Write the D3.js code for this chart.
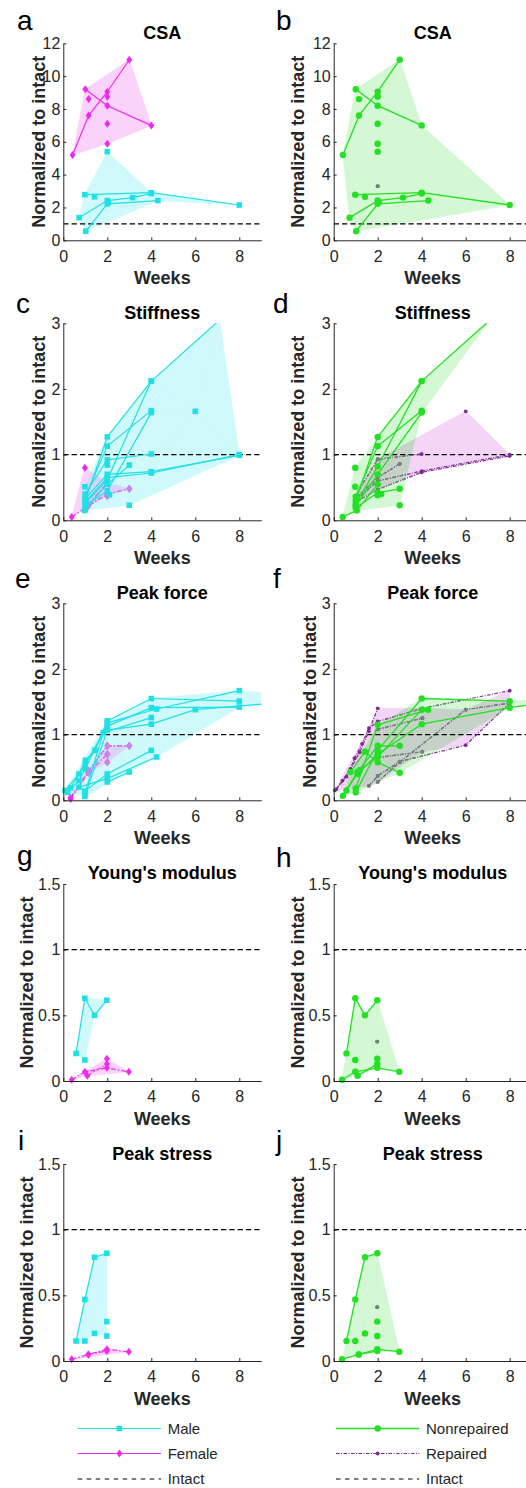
<!DOCTYPE html>
<html>
<head>
<meta charset="utf-8">
<script src="https://cdn.jsdelivr.net/npm/d3@7"></script>
<style>
  body { margin: 0; background: #fff; }
  text { font-family: "Liberation Sans", Arial, Helvetica, sans-serif; }
</style>
</head>
<body>
<svg id="chart" width="526" height="1488"></svg>
<script>
// ---- tick values ----
const weekTicks = [0, 2, 4, 6, 8];
const csaTicks = [0, 2, 4, 6, 8, 10, 12];
const ratioTicks = [0, 1, 2, 3];
const smallTicks = [0, 0.5, 1, 1.5];
const intactLevel = 1;

// ---- CSA (a, b) ----  [week, normalized value]
const csaMaleLines = [
  [[0.98, 2.78], [4.0, 2.9], [8.0, 2.15]],
  [[0.72, 1.38], [2.0, 2.42], [3.15, 2.6], [4.0, 2.85]],
  [[1.02, 0.55], [2.0, 2.22], [4.3, 2.42]]
];
const csaMalePoints = [[1.42, 2.65], [2.0, 5.4], [2.05, 2.32]];
const csaFemaleLines = [
  [[0.42, 5.2], [1.15, 7.6], [2.0, 9.05], [3.0, 11.0]],
  [[1.0, 9.2], [2.0, 8.2], [4.0, 7.0]]
];
const csaFemalePoints = [[1.15, 8.6], [2.0, 8.75], [2.0, 7.1], [2.0, 5.88]];
const csaRepPoints = [[2.0, 3.3]];

// ---- Stiffness (c, d) ----
const stiffMaleLines = [
  [[1.0, 0.30], [2.0, 1.27], [4.0, 2.12], [7.1, 3.05]],
  [[1.0, 0.25], [2.0, 0.62], [4.0, 2.12]],
  [[1.0, 0.36], [2.0, 1.13], [4.0, 1.67]],
  [[1.0, 0.22], [2.0, 0.45], [4.0, 1.64]],
  [[1.0, 0.40], [2.0, 0.92], [4.0, 1.01]],
  [[1.0, 0.33], [2.0, 0.70], [4.0, 0.74], [8.0, 0.99]],
  [[1.0, 0.28], [2.0, 0.65], [4.0, 0.72], [8.0, 1.0]],
  [[1.0, 0.17], [2.0, 0.55], [3.0, 0.84]]
];
const stiffMalePoints = [[0.98, 0.51], [0.98, 0.15], [2.1, 0.39], [3.0, 0.23], [6.0, 1.66], [2.0, 0.84]];
const stiffFemaleLines = [
  [[0.38, 0.05], [1.14, 0.22], [2.0, 0.40], [3.0, 0.48]],
  [[1.14, 0.24], [2.0, 0.57]]
];
const stiffFemalePoints = [[0.98, 0.80], [2.0, 0.37]];
const stiffNonrepLines = [
  [[1.0, 0.30], [2.0, 1.27], [4.0, 2.12], [7.1, 3.05]],
  [[1.0, 0.25], [2.0, 0.82], [4.0, 2.12]],
  [[1.0, 0.36], [2.0, 1.13], [4.0, 1.67]],
  [[1.0, 0.22], [2.0, 0.70], [4.0, 1.64]],
  [[1.0, 0.19], [2.0, 0.42], [3.0, 0.48]],
  [[0.41, 0.05], [1.05, 0.15], [2.0, 0.55]]
];
const stiffNonrepPoints = [[0.98, 0.80], [0.98, 0.51], [2.16, 0.40], [3.0, 0.23], [2.0, 0.38]];
const stiffRepLines = [
  [[0.98, 0.37], [2.0, 0.93], [4.0, 1.01]],
  [[0.98, 0.33], [2.0, 0.65], [3.0, 0.86]],
  [[0.98, 0.30], [2.0, 0.60], [4.0, 0.75], [8.0, 1.0]],
  [[0.98, 0.27], [2.0, 0.47], [4.0, 0.73], [8.0, 0.98]]
];
const stiffRepPoints = [[6.0, 1.66]];

// ---- Peak force (e, f) ----
const forceMaleLines = [
  [[0.08, 0.15], [0.71, 0.40], [1.0, 0.61], [1.44, 0.76], [2.0, 1.21], [4.0, 1.55], [8.0, 1.51]],
  [[0.2, 0.12], [0.71, 0.30], [1.0, 0.48], [2.0, 1.18], [4.24, 1.39], [8.0, 1.67]],
  [[0.33, 0.19], [1.0, 0.55], [2.0, 1.13], [4.0, 1.41], [8.0, 1.42]],
  [[0.98, 0.10], [1.82, 1.03], [4.0, 1.26]],
  [[0.98, 0.06], [2.0, 1.07], [4.0, 1.16], [6.0, 1.38], [12.0, 1.55]],
  [[0.98, 0.14], [2.0, 0.40], [4.0, 0.76]],
  [[0.71, 0.20], [2.0, 0.33], [4.24, 0.66]],
  [[2.0, 0.28], [3.0, 0.43]]
];
const forceMalePoints = [];
const forceFemaleLines = [
  [[0.33, 0.04], [1.14, 0.45], [2.0, 0.83], [3.0, 0.83]],
  [[0.33, 0.02], [1.14, 0.42], [2.0, 0.70]]
];
const forceFemalePoints = [[2.0, 0.58]];
const forceNonrepLines = [
  [[1.0, 0.12], [2.0, 0.76], [4.0, 1.55], [8.0, 1.51]],
  [[1.0, 0.18], [2.0, 1.15], [4.29, 1.38]],
  [[0.42, 0.07], [1.08, 0.43], [2.0, 0.83], [3.0, 0.83]],
  [[0.58, 0.15], [1.18, 0.46], [2.0, 0.66], [4.0, 1.38]],
  [[0.76, 0.43], [1.42, 0.74], [2.0, 0.58], [3.0, 0.42]],
  [[1.08, 0.40], [2.0, 0.70], [4.0, 1.16], [8.0, 1.41], [12.0, 1.6]]
];
const forceNonrepPoints = [];
const forceRepLines = [
  [[0.05, 0.15], [0.4, 0.30], [0.76, 0.48], [0.95, 0.64], [1.29, 0.86], [1.6, 1.10], [2.0, 1.20], [4.03, 1.40], [8.0, 1.67]],
  [[0.12, 0.17], [0.58, 0.36], [1.18, 0.73], [1.6, 1.05], [2.0, 1.40]],
  [[1.6, 0.22], [2.0, 0.37], [3.0, 0.59], [6.0, 0.84], [8.0, 1.48]],
  [[2.0, 0.28], [3.0, 0.58], [6.0, 1.38], [8.0, 1.48]],
  [[2.0, 1.08], [4.03, 1.25]],
  [[2.0, 0.65], [4.03, 0.74]]
];
const forceRepPoints = [];

// ---- Young's modulus (g, h) ----
const modMaleLines = [[[0.58, 0.21], [0.98, 0.63], [1.42, 0.50], [1.98, 0.615]]];
const modMalePoints = [[0.98, 0.16]];
const modFemaleLines = [
  [[0.38, 0.01], [0.98, 0.07], [1.98, 0.10], [2.98, 0.07]],
  [[1.09, 0.04], [1.98, 0.13]]
];
const modFemalePoints = [[1.98, 0.17]];
const modRepPoints = [[1.98, 0.30]];

// ---- Peak stress (i, j) ----
const stressMaleLines = [[[0.58, 0.152], [0.98, 0.468], [1.42, 0.79], [1.98, 0.82]]];
const stressMalePoints = [[0.98, 0.152], [1.42, 0.21], [1.98, 0.30], [1.98, 0.19]];
const stressFemaleLines = [
  [[0.38, 0.013], [1.14, 0.05], [1.98, 0.089], [2.98, 0.071]],
  [[1.14, 0.05], [1.98, 0.076]]
];
const stressFemalePoints = [];
const stressRepPoints = [[1.98, 0.41]];

const legendLeftLabels = ['Male', 'Female', 'Intact'];
const legendRightLabels = ['Nonrepaired', 'Repaired', 'Intact'];

// ---- styles ----
const styles = {
  male:        { color: '#1fe0e5', fill: '#cff9fa', marker: 'square',  dash: null, width: 1.2 },
  female:      { color: '#ee2aee', tint: '#c984ea', fill: '#fad2fa', overlap: '#dcd3f8', marker: 'diamond', dash: '5,2,1.5,2', width: 1.2 },
  femaleSolid: { color: '#ee2aee', tint: '#c984ea', fill: '#fad2fa', overlap: '#dcd3f8', marker: 'diamond', dash: null, width: 1.2 },
  nonrep:      { color: '#22e022', fill: '#d4f7d4', marker: 'circle',  dash: null, width: 1.3 },
  rep:         { color: '#7b2d8c', tint: '#6a8a76', fill: '#f4d4f7', overlap: '#c6d1c8', marker: 'dot', dash: '3.5,1.5,1,1.5', width: 1.2 }
};

// radius: alpha-shape radius of the shaded area in data units
// (Infinity = convex hull, undefined = MATLAB-like default boundary)
const panels = [
  { key: 'a', col: 0, row: 0, title: 'CSA', yMax: 12, yTicks: csaTicks,
    under: { style: 'femaleSolid', lines: csaFemaleLines, points: csaFemalePoints, radius: Infinity },
    over:  { style: 'male', lines: csaMaleLines, points: csaMalePoints, radius: 4 } },
  { key: 'b', col: 1, row: 0, title: 'CSA', yMax: 12, yTicks: csaTicks,
    under: { style: 'rep', lines: [], points: csaRepPoints },
    over:  { style: 'nonrep', lines: csaMaleLines.concat(csaFemaleLines), points: csaMalePoints.concat(csaFemalePoints), radius: 7 } },
  { key: 'c', col: 0, row: 1, title: 'Stiffness', yMax: 3, yTicks: ratioTicks,
    under: { style: 'female', lines: stiffFemaleLines, points: stiffFemalePoints },
    over:  { style: 'male', lines: stiffMaleLines, points: stiffMalePoints, radius: Infinity } },
  { key: 'd', col: 1, row: 1, title: 'Stiffness', yMax: 3, yTicks: ratioTicks,
    under: { style: 'rep', lines: stiffRepLines, points: stiffRepPoints },
    over:  { style: 'nonrep', lines: stiffNonrepLines, points: stiffNonrepPoints } },
  { key: 'e', col: 0, row: 2, title: 'Peak force', yMax: 3, yTicks: ratioTicks,
    under: { style: 'female', lines: forceFemaleLines, points: forceFemalePoints },
    over:  { style: 'male', lines: forceMaleLines, points: forceMalePoints } },
  { key: 'f', col: 1, row: 2, title: 'Peak force', yMax: 3, yTicks: ratioTicks,
    under: { style: 'rep', lines: forceRepLines, points: forceRepPoints },
    over:  { style: 'nonrep', lines: forceNonrepLines, points: forceNonrepPoints } },
  { key: 'g', col: 0, row: 3, title: "Young's modulus", yMax: 1.5, yTicks: smallTicks,
    under: { style: 'female', lines: modFemaleLines, points: modFemalePoints },
    over:  { style: 'male', lines: modMaleLines, points: modMalePoints } },
  { key: 'h', col: 1, row: 3, title: "Young's modulus", yMax: 1.5, yTicks: smallTicks,
    under: { style: 'rep', lines: [], points: modRepPoints },
    over:  { style: 'nonrep', lines: modMaleLines.concat(modFemaleLines), points: modMalePoints.concat(modFemalePoints) } },
  { key: 'i', col: 0, row: 4, title: 'Peak stress', yMax: 1.5, yTicks: smallTicks,
    under: { style: 'female', lines: stressFemaleLines, points: stressFemalePoints },
    over:  { style: 'male', lines: stressMaleLines, points: stressMalePoints } },
  { key: 'j', col: 1, row: 4, title: 'Peak stress', yMax: 1.5, yTicks: smallTicks,
    under: { style: 'rep', lines: [], points: stressRepPoints },
    over:  { style: 'nonrep', lines: stressMaleLines.concat(stressFemaleLines), points: stressMalePoints.concat(stressFemalePoints) } }
];

// ---- layout ----
const colX = [63.3, 333.7];
const rowTop = [43.3, 323.3, 603.3, 884, 1164];
const plotW = 198, plotH = 197;
const titleGap = [4, 4, 4, 5.5, 4.5];
const letterPos = { a: [17, 30], b: [276, 30], c: [16, 313], d: [273, 313], e: [15, 588],
                    f: [273, 588], g: [17, 865], h: [276, 867], i: [18, 1150], j: [276, 1150] };
const ylabelX = { a: 45, b: 303.5, c: 45, d: 303.5, e: 45, f: 316, g: 33, h: 303.5, i: 33, j: 303.5 };
const ink = '#262626';

const svg = d3.select('#chart');
svg.append('rect').attr('width', 526).attr('height', 1488).attr('fill', '#fff');
const defs = svg.append('defs');

// alpha-shape fill, same idea as MATLAB boundary(x, y)
function circumR(a, b, c) {
  const ab = Math.hypot(b[0] - a[0], b[1] - a[1]);
  const bc = Math.hypot(c[0] - b[0], c[1] - b[1]);
  const ca = Math.hypot(a[0] - c[0], a[1] - c[1]);
  const area2 = Math.abs((b[0] - a[0]) * (c[1] - a[1]) - (c[0] - a[0]) * (b[1] - a[1]));
  return area2 < 1e-12 ? Infinity : ab * bc * ca / (2 * area2);
}

function isOneRegion(tris, nVerts) {
  const covered = new Set();
  tris.forEach(t => t.v.forEach(k => covered.add(k)));
  if (covered.size < nVerts) return false;
  const parent = tris.map((_, i) => i);
  const find = i => parent[i] === i ? i : (parent[i] = find(parent[i]));
  const owner = new Map();
  tris.forEach((t, i) => {
    for (let j = 0; j < 3; j++) {
      const a = t.v[j], b = t.v[(j + 1) % 3];
      const key = a < b ? a + '_' + b : b + '_' + a;
      if (owner.has(key)) parent[find(i)] = find(owner.get(key));
      else owner.set(key, i);
    }
  });
  return new Set(tris.map((_, i) => find(i))).size === 1;
}

function alphaShape(pts, radius) {
  if (pts.length < 3) return [];
  const T = d3.Delaunay.from(pts).triangles;
  if (!T.length) return [];
  const tris = [];
  for (let i = 0; i < T.length; i += 3) {
    const v = [T[i], T[i + 1], T[i + 2]];
    tris.push({ v, r: circumR(pts[v[0]], pts[v[1]], pts[v[2]]) });
  }
  let alpha = radius;
  if (alpha === undefined) {
    const nVerts = new Set(T).size;
    const spectrum = [...new Set(tris.map(t => t.r).filter(Number.isFinite))].sort((a, b) => a - b);
    let crit = spectrum[spectrum.length - 1];
    for (const a of spectrum) {
      if (isOneRegion(tris.filter(t => t.r <= a), nVerts)) { crit = a; break; }
    }
    const sub = spectrum.filter(r => r >= crit);
    alpha = sub[Math.max(Math.ceil(0.5 * sub.length), 1) - 1];
  }
  return tris.filter(t => t.r <= alpha).map(t => t.v.map(k => pts[k]));
}

function markerPath(kind) {
  if (kind === 'square') return 'M-2.8,-2.8H2.8V2.8H-2.8Z';
  if (kind === 'diamond') return 'M0,-4L3,0L0,4L-3,0Z';
  if (kind === 'circle') return d3.symbol(d3.symbolCircle, Math.PI * 3.2 * 3.2)();
  return d3.symbol(d3.symbolCircle, Math.PI * 1.9 * 1.9)();
}

function groupPoints(grp) {
  return grp.lines.flat().concat(grp.points);
}

function drawPanel(p) {
  const left = colX[p.col], top = rowTop[p.row];
  const x = d3.scaleLinear().domain([0, 9]).range([left, left + plotW]);
  const y = d3.scaleLinear().domain([0, p.yMax]).range([top + plotH, top]);
  const line = d3.line().x(d => x(d[0])).y(d => y(d[1]));
  const su = styles[p.under.style], so = styles[p.over.style];
  const g = svg.append('g');

  const clipId = 'plot-' + p.key;
  defs.append('clipPath').attr('id', clipId).append('rect')
    .attr('x', left).attr('y', top).attr('width', plotW).attr('height', plotH);

  const triPath = tris => tris.map(t => 'M' + t.map(q => x(q[0]) + ',' + y(q[1])).join('L') + 'Z').join('');
  const underTris = alphaShape(groupPoints(p.under), p.under.radius);
  const overTris = alphaShape(groupPoints(p.over), p.over.radius);
  const hullId = 'hull-' + p.key;
  defs.append('clipPath').attr('id', hullId).append('path').attr('d', triPath(overTris) || 'M0,0Z');

  const inView = d => d[0] >= 0 && d[0] <= 9 && d[1] >= 0 && d[1] <= p.yMax;

  // fills
  const fills = g.append('g').attr('clip-path', `url(#${clipId})`);
  if (underTris.length) fills.append('path').attr('d', triPath(underTris))
    .attr('fill', su.fill).attr('stroke', su.fill).attr('stroke-width', 0.6).attr('stroke-linejoin', 'round');
  if (overTris.length) fills.append('path').attr('d', triPath(overTris))
    .attr('fill', so.fill).attr('stroke', so.fill).attr('stroke-width', 0.6).attr('stroke-linejoin', 'round');
  if (underTris.length && overTris.length) fills.append('g').attr('clip-path', `url(#${hullId})`)
    .append('path').attr('d', triPath(underTris))
    .attr('fill', su.overlap).attr('stroke', su.overlap).attr('stroke-width', 0.6);

  // intact reference
  fills.append('line')
    .attr('x1', x(0)).attr('x2', x(9)).attr('y1', y(intactLevel)).attr('y2', y(intactLevel))
    .attr('stroke', '#000').attr('stroke-width', 1.2).attr('stroke-dasharray', '5.3,3');

  function drawGroup(grp, st, color, clipHull) {
    const lg = g.append('g').attr('clip-path', `url(#${clipId})`);
    const inner = clipHull ? lg.append('g').attr('clip-path', `url(#${hullId})`) : lg;
    inner.selectAll(null).data(grp.lines).join('path')
      .attr('d', line).attr('fill', 'none').attr('stroke', color)
      .attr('stroke-width', st.width).attr('stroke-dasharray', st.dash);
    const mg = clipHull ? g.append('g').attr('clip-path', `url(#${hullId})`) : g.append('g');
    mg.selectAll(null).data(groupPoints(grp).filter(inView)).join('path')
      .attr('d', markerPath(st.marker))
      .attr('transform', d => `translate(${x(d[0])},${y(d[1])})`)
      .attr('fill', color);
  }
  drawGroup(p.under, su, su.color, false);
  if (overTris.length) drawGroup(p.under, su, su.tint, true);
  drawGroup(p.over, so, so.color, false);

  // axes
  const xAxis = d3.axisBottom(x).tickValues(weekTicks).tickSizeInner(-3).tickSizeOuter(0)
    .tickPadding(10).tickFormat(d => String(d));
  const yAxis = d3.axisLeft(y).tickValues(p.yTicks).tickSizeInner(-3).tickSizeOuter(0)
    .tickPadding(3).tickFormat(d => String(d));
  [g.append('g').attr('transform', `translate(0,${top + plotH})`).call(xAxis),
   g.append('g').attr('transform', `translate(${left},0)`).call(yAxis)].forEach(a => {
    a.selectAll('path, line').attr('stroke', ink);
    a.selectAll('text').attr('fill', ink).style('font-size', '16px')
      .style('font-family', '"Liberation Sans", Arial, sans-serif');
  });

  g.append('text').attr('x', left + plotW / 2).attr('y', top - titleGap[p.row])
    .attr('text-anchor', 'middle').style('font-size', '18px').style('font-weight', 'bold')
    .attr('fill', '#000').text(p.title);
  g.append('text').attr('x', left + plotW / 2).attr('y', top + plotH + 44)
    .attr('text-anchor', 'middle').style('font-size', '18px').style('font-weight', 'bold')
    .attr('fill', ink).text('Weeks');
  g.append('text')
    .attr('transform', `translate(${ylabelX[p.key]},${top + plotH / 2}) rotate(-90)`)
    .attr('text-anchor', 'middle').style('font-size', '18px').style('font-weight', 'bold')
    .attr('fill', ink).text('Normalized to intact');
  g.append('text').attr('x', letterPos[p.key][0]).attr('y', letterPos[p.key][1])
    .style('font-size', '28px').attr('fill', '#000').text(p.key);
}

panels.forEach(drawPanel);

// ---- legends ----
const legendRows = [1428.5, 1453.5, 1479];
function drawLegend(labels, keys, x0, x1, tx) {
  const lg = svg.append('g');
  labels.forEach((lab, i) => {
    const yy = legendRows[i];
    const st = keys[i] ? styles[keys[i]] : null;
    lg.append('line').attr('x1', x0).attr('x2', x1).attr('y1', yy).attr('y2', yy)
      .attr('stroke', st ? st.color : '#000').attr('stroke-width', st ? st.width : 1.2)
      .attr('stroke-dasharray', st ? st.dash : '4.5,4.5');
    if (st) lg.append('path').attr('d', markerPath(st.marker))
      .attr('transform', `translate(${(x0 + x1) / 2},${yy})`).attr('fill', st.color);
    lg.append('text').attr('x', tx).attr('y', yy).attr('dy', '0.36em')
      .style('font-size', '15px').attr('fill', ink).text(lab);
  });
}
drawLegend(legendLeftLabels, ['male', 'femaleSolid', null], 77.7, 161, 167.7);
drawLegend(legendRightLabels, ['nonrep', 'rep', null], 336, 419.3, 426);
</script>
</body>
</html>
